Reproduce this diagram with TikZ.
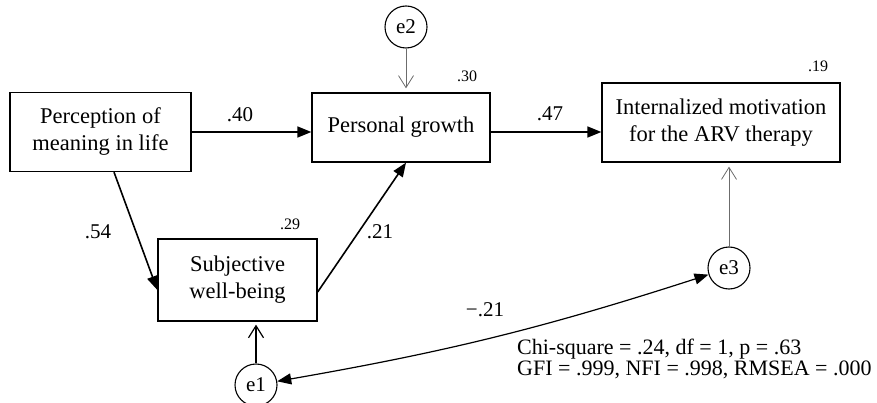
\documentclass[tikz,border=0pt]{standalone}
\usepackage{fontspec}
\setmainfont{Liberation Serif}
\usetikzlibrary{arrows.meta}
\begin{document}
\begin{tikzpicture}[x=1pt,y=-1pt,
  var/.style={draw,line width=1.3pt,inner sep=0pt,align=center,font=\fontsize{22.5}{27}\selectfont},
  err/.style={draw,circle,line width=1.1pt,minimum size=42pt,inner sep=0pt,font=\fontsize{21}{24}\selectfont},
  path/.style={line width=1.6pt,-{Triangle[length=14pt,width=11pt]}},
  errarrow/.style={line width=0.8pt,draw=gray!85!black,-{Straight Barb[length=12pt,width=15pt]}},
  coef/.style={font=\fontsize{21}{24}\selectfont,inner sep=0pt},
  rsq/.style={font=\fontsize{16}{18}\selectfont,inner sep=0pt}]
\useasboundingbox (0,0) rectangle (877,403);
\node[var,minimum width=181pt,minimum height=79pt] (A) at (100.5,132) {Perception of\\meaning in life};
\node[var,minimum width=178pt,minimum height=69pt] (B) at (401,127.5) {Personal growth};
\node[var,minimum width=238pt,minimum height=79pt] (C) at (721,122.5) {Internalized motivation\\for the ARV therapy};
\node[var,minimum width=159pt,minimum height=82pt] (D) at (237.5,280) {Subjective\\well-being};
\node[err] (e2) at (406,27) {e2};
\node[err] (e3) at (729,268) {e3};
\node[err] (e1) at (256,385) {e1};
\draw[path] (A.east) -- (B.west |- A.east);
\draw[path] (B.east |- A.east) -- (C.west |- A.east);
\draw[path] ([xshift=13.5pt]A.south) -- ([yshift=-10pt]D.west);
\draw[path] ([yshift=-12pt]D.east) -- ([xshift=5pt]B.south);
\draw[errarrow,shorten >=4pt] (e2.south) -- (e2.south |- B.north);
\draw[errarrow,shorten >=4pt] (e3.north) -- (e3.north |- C.south);
\draw[errarrow,draw=black,line width=1.2pt,shorten >=3pt] (e1.north) -- (e1.north |- D.south);
\draw[line width=1.2pt,{Triangle[length=14pt,width=11pt]}-{Triangle[length=14pt,width=11pt]}] (e1) to[bend right=4] (e3);
\node[coef] (l40) at (240,115) {.40};
\node[coef] (l47) at (550,114) {.47};
\node[coef] (l54) at (98,232) {.54};
\node[coef] (l21) at (380,232) {.21};
\node[coef] (lm21) at (485,310) {−.21};
\node[rsq] (r29) at (290,224) {.29};
\node[rsq] (r30) at (467,76) {.30};
\node[rsq] (r19) at (818,66) {.19};
\node[anchor=west,inner sep=0pt,align=left,font=\fontsize{22}{20.5}\selectfont] (stats) at (517,359) {Chi-square = .24, df = 1, p = .63\\GFI = .999, NFI = .998, RMSEA = .000};
\end{tikzpicture}
\end{document}
